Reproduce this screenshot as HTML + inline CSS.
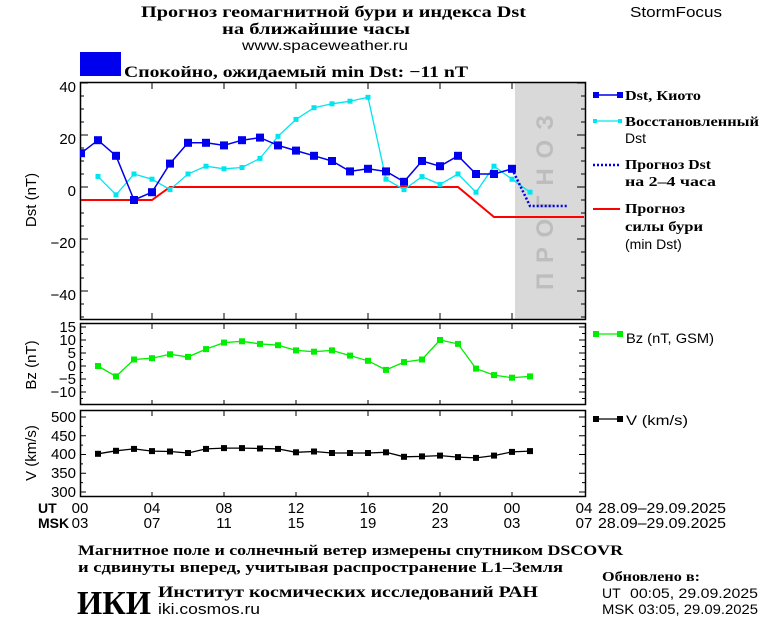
<!DOCTYPE html>
<html><head><meta charset="utf-8"><style>
html,body{margin:0;padding:0;background:#fff}
svg{display:block}
text{font-family:"Liberation Sans","DejaVu Sans",sans-serif;fill:#000}
.s{font-family:"Liberation Serif","DejaVu Serif",serif;font-weight:bold}
</style></head><body>
<svg width="760" height="620" viewBox="0 0 760 620" xmlns="http://www.w3.org/2000/svg" font-size="13">
<rect width="760" height="620" fill="#fff"/>
<!-- header -->
<text x="141" y="17" class="s" font-size="16" textLength="385" lengthAdjust="spacingAndGlyphs">Прогноз геомагнитной бури и индекса Dst</text>
<text x="222" y="34" class="s" font-size="16" textLength="188" lengthAdjust="spacingAndGlyphs">на ближайшие часы</text>
<text x="242" y="50" font-size="14" textLength="166" lengthAdjust="spacingAndGlyphs">www.spaceweather.ru</text>
<text x="630" y="17" font-size="15" textLength="92" lengthAdjust="spacingAndGlyphs">StormFocus</text>
<rect x="80" y="52" width="41" height="24" fill="#0000ee"/>
<text x="124" y="77" class="s" font-size="16" textLength="344" lengthAdjust="spacingAndGlyphs">Спокойно, ожидаемый min Dst: −11 nT</text>

<!-- Dst panel -->
<rect x="515" y="83" width="70" height="236" fill="#d9d9d9"/>
<text transform="translate(553,290) rotate(-90)" font-size="24" font-weight="bold" textLength="175" lengthAdjust="spacing" style="fill:#bdbdbd">ПРОГНОЗ</text>
<rect x="80.5" y="82.5" width="505" height="237" fill="none" stroke="#000" stroke-width="1.5"/>
<g stroke="#000" stroke-width="1">
<path d="M80 83h8M80 96h4M80 109h4M80 122h4M80 135h8M80 148h4M80 161h4M80 174h4M80 187h8M80 200h4M80 213h4M80 226h4M80 239h8M80 252h4M80 265h4M80 278h4M80 291h8M80 304h4M80 317h4"/>
<path d="M585 83h-8M585 96h-4M585 109h-4M585 122h-4M585 135h-8M585 148h-4M585 161h-4M585 174h-4M585 187h-8M585 200h-4M585 213h-4M585 226h-4M585 239h-8M585 252h-4M585 265h-4M585 278h-4M585 291h-8M585 304h-4M585 317h-4"/>
<path d="M152 83v6M224 83v6M296 83v6M368 83v6M440 83v6M512 83v6M152 319v-6M224 319v-6M296 319v-6M368 319v-6M440 319v-6M512 319v-6"/>
</g>
<g text-anchor="end" font-size="15">
<text x="76" y="92">40</text><text x="76" y="144">20</text><text x="76" y="196">0</text><text x="76" y="248">−20</text><text x="76" y="300">−40</text>
</g>
<text transform="translate(36,200) rotate(-90)" text-anchor="middle" font-size="15">Dst (nT)</text>
<polyline fill="none" stroke="#f00" stroke-width="2" points="81,200 152,200 170,187 458,187 494,217 584,217"/>
<polyline fill="none" stroke="#00e5ee" stroke-width="1.3" points="98,176.6 116,194.8 134,174 152,179.2 170,189.6 188,174 206,166.2 224,168.8 242,167.5 260,158.4 278,136.3 296,119.4 314,107.7 332,103.8 350,101.2 368,97.3 386,179.2 404,189.6 422,176.6 440,184.4 458,174 476,192.2 494,166.2 512,179.2 530,192.2"/>
<g fill="#00e5ee">
<rect x="95.5" y="174" width="5" height="5"/><rect x="113.5" y="192.3" width="5" height="5"/><rect x="131.5" y="171.5" width="5" height="5"/><rect x="149.5" y="176.7" width="5" height="5"/><rect x="167.5" y="187.1" width="5" height="5"/><rect x="185.5" y="171.5" width="5" height="5"/><rect x="203.5" y="163.7" width="5" height="5"/><rect x="221.5" y="166.3" width="5" height="5"/><rect x="239.5" y="165" width="5" height="5"/><rect x="257.5" y="155.9" width="5" height="5"/><rect x="275.5" y="133.8" width="5" height="5"/><rect x="293.5" y="116.9" width="5" height="5"/><rect x="311.5" y="105.2" width="5" height="5"/><rect x="329.5" y="101.3" width="5" height="5"/><rect x="347.5" y="98.7" width="5" height="5"/><rect x="365.5" y="94.8" width="5" height="5"/><rect x="383.5" y="176.7" width="5" height="5"/><rect x="401.5" y="187.1" width="5" height="5"/><rect x="419.5" y="174.1" width="5" height="5"/><rect x="437.5" y="181.9" width="5" height="5"/><rect x="455.5" y="171.5" width="5" height="5"/><rect x="473.5" y="189.7" width="5" height="5"/><rect x="491.5" y="163.7" width="5" height="5"/><rect x="509.5" y="176.7" width="5" height="5"/><rect x="527.5" y="189.7" width="5" height="5"/>
</g>
<polyline fill="none" stroke="#0000ee" stroke-width="1.5" points="81,153.2 98,140.2 116,155.8 134,200 152,192.2 170,163.6 188,142.8 206,142.8 224,145.4 242,140.2 260,137.6 278,145.4 296,150.6 314,155.8 332,161 350,171.4 368,168.8 386,171.4 404,181.8 422,161 440,166.2 458,155.8 476,174 494,174 512,168.8"/>
<polyline fill="none" stroke="#0000ee" stroke-width="2.5" stroke-dasharray="2,2" points="512,168.8 530,206 567,206"/>
<g fill="#0000ee">
<rect x="80" y="149.2" width="5" height="8"/><rect x="94" y="136.2" width="8" height="8"/><rect x="112" y="151.8" width="8" height="8"/><rect x="130" y="196" width="8" height="8"/><rect x="148" y="188.2" width="8" height="8"/><rect x="166" y="159.6" width="8" height="8"/><rect x="184" y="138.8" width="8" height="8"/><rect x="202" y="138.8" width="8" height="8"/><rect x="220" y="141.4" width="8" height="8"/><rect x="238" y="136.2" width="8" height="8"/><rect x="256" y="133.6" width="8" height="8"/><rect x="274" y="141.4" width="8" height="8"/><rect x="292" y="146.6" width="8" height="8"/><rect x="310" y="151.8" width="8" height="8"/><rect x="328" y="157" width="8" height="8"/><rect x="346" y="167.4" width="8" height="8"/><rect x="364" y="164.8" width="8" height="8"/><rect x="382" y="167.4" width="8" height="8"/><rect x="400" y="177.8" width="8" height="8"/><rect x="418" y="157" width="8" height="8"/><rect x="436" y="162.2" width="8" height="8"/><rect x="454" y="151.8" width="8" height="8"/><rect x="472" y="170" width="8" height="8"/><rect x="490" y="170" width="8" height="8"/><rect x="508" y="164.8" width="8" height="8"/>
</g>
<!-- Dst legend -->
<line x1="595" y1="95" x2="620" y2="95" stroke="#0000ee" stroke-width="1.5"/>
<rect x="593" y="92" width="6" height="6" fill="#0000ee"/><rect x="617" y="92" width="6" height="6" fill="#0000ee"/>
<text x="625" y="100" class="s" font-size="14" textLength="76" lengthAdjust="spacingAndGlyphs">Dst, Киото</text>
<line x1="595" y1="121" x2="620" y2="121" stroke="#00e5ee" stroke-width="1.3"/>
<rect x="593" y="119" width="4" height="4" fill="#00e5ee"/><rect x="618" y="119" width="4" height="4" fill="#00e5ee"/>
<text x="625" y="126" class="s" font-size="14" textLength="134" lengthAdjust="spacingAndGlyphs">Восстановленный</text><text x="625" y="143" font-size="14">Dst</text>
<line x1="593" y1="165" x2="620" y2="165" stroke="#0000ee" stroke-width="2.5" stroke-dasharray="2,2"/>
<text x="625" y="169" class="s" font-size="14" textLength="86" lengthAdjust="spacingAndGlyphs">Прогноз Dst</text><text x="625" y="186" class="s" font-size="14" textLength="91" lengthAdjust="spacingAndGlyphs">на 2–4 часа</text>
<line x1="593" y1="209" x2="620" y2="209" stroke="#f00" stroke-width="2"/>
<text x="625" y="213" class="s" font-size="14" textLength="60" lengthAdjust="spacingAndGlyphs">Прогноз</text><text x="625" y="231" class="s" font-size="14" textLength="78" lengthAdjust="spacingAndGlyphs">силы бури</text><text x="625" y="249" font-size="14">(min Dst)</text>

<!-- Bz panel -->
<rect x="80.5" y="323.5" width="505" height="81" fill="none" stroke="#000" stroke-width="1.5"/>
<g stroke="#000" stroke-width="1">
<path d="M80 327h6M80 340h6M80 353h6M80 366h6M80 379h6M80 392h6M80 333.5h3M80 346.5h3M80 359.5h3M80 372.5h3M80 385.5h3M80 398.5h3"/>
<path d="M585 327h-6M585 340h-6M585 353h-6M585 366h-6M585 379h-6M585 392h-6M585 333.5h-3M585 346.5h-3M585 359.5h-3M585 372.5h-3M585 385.5h-3M585 398.5h-3"/>
<path d="M152 324v5M224 324v5M296 324v5M368 324v5M440 324v5M512 324v5M152 405v-5M224 405v-5M296 405v-5M368 405v-5M440 405v-5M512 405v-5"/>
</g>
<g text-anchor="end" font-size="15">
<text x="76" y="332">15</text><text x="76" y="345">10</text><text x="76" y="358">5</text><text x="76" y="371">0</text><text x="76" y="384">−5</text><text x="76" y="397">−10</text>
</g>
<text transform="translate(36,365) rotate(-90)" text-anchor="middle" font-size="15">Bz (nT)</text>
<polyline fill="none" stroke="#00ee00" stroke-width="1.3" points="98,366 116,376.4 134,359.5 152,358.2 170,354.3 188,356.9 206,349.1 224,342.6 242,341.3 260,343.9 278,345.2 296,350.4 314,351.7 332,350.4 350,355.6 368,360.8 386,369.9 404,362.1 422,359.5 440,340 458,343.9 476,368.6 494,375.1 512,377.7 530,376.4"/>
<g fill="#00ee00">
<rect x="95" y="363" width="6" height="6"/><rect x="113" y="373.4" width="6" height="6"/><rect x="131" y="356.5" width="6" height="6"/><rect x="149" y="355.2" width="6" height="6"/><rect x="167" y="351.3" width="6" height="6"/><rect x="185" y="353.9" width="6" height="6"/><rect x="203" y="346.1" width="6" height="6"/><rect x="221" y="339.6" width="6" height="6"/><rect x="239" y="338.3" width="6" height="6"/><rect x="257" y="340.9" width="6" height="6"/><rect x="275" y="342.2" width="6" height="6"/><rect x="293" y="347.4" width="6" height="6"/><rect x="311" y="348.7" width="6" height="6"/><rect x="329" y="347.4" width="6" height="6"/><rect x="347" y="352.6" width="6" height="6"/><rect x="365" y="357.8" width="6" height="6"/><rect x="383" y="366.9" width="6" height="6"/><rect x="401" y="359.1" width="6" height="6"/><rect x="419" y="356.5" width="6" height="6"/><rect x="437" y="337" width="6" height="6"/><rect x="455" y="340.9" width="6" height="6"/><rect x="473" y="365.6" width="6" height="6"/><rect x="491" y="372.1" width="6" height="6"/><rect x="509" y="374.7" width="6" height="6"/><rect x="527" y="373.4" width="6" height="6"/>
</g>
<line x1="595" y1="334" x2="620" y2="334" stroke="#00ee00" stroke-width="1.3"/>
<rect x="593" y="331" width="6" height="6" fill="#00ee00"/><rect x="617" y="331" width="6" height="6" fill="#00ee00"/>
<text x="626" y="343" font-size="14" textLength="88" lengthAdjust="spacingAndGlyphs">Bz (nT, GSM)</text>

<!-- V panel -->
<rect x="80.5" y="410.5" width="505" height="86" fill="none" stroke="#000" stroke-width="1.5"/>
<g stroke="#000" stroke-width="1">
<path d="M80 417h6M80 435.75h6M80 454.5h6M80 473.25h6M80 492h6M80 426.4h3M80 445.1h3M80 463.9h3M80 482.6h3"/>
<path d="M585 417h-6M585 435.75h-6M585 454.5h-6M585 473.25h-6M585 492h-6M585 426.4h-3M585 445.1h-3M585 463.9h-3M585 482.6h-3"/>
<path d="M152 411v5M224 411v5M296 411v5M368 411v5M440 411v5M512 411v5M152 497v-5M224 497v-5M296 497v-5M368 497v-5M440 497v-5M512 497v-5"/>
</g>
<g text-anchor="end" font-size="15">
<text x="76" y="422">500</text><text x="76" y="441">450</text><text x="76" y="459">400</text><text x="76" y="478">350</text><text x="76" y="497">300</text>
</g>
<text transform="translate(36,453) rotate(-90)" text-anchor="middle" font-size="15">V (km/s)</text>
<polyline fill="none" stroke="#000" stroke-width="1.3" points="98,453.8 116,450.8 134,448.9 152,451.1 170,451.5 188,453 206,448.9 224,448.1 242,448.1 260,448.5 278,448.9 296,452.3 314,451.5 332,453 350,453 368,453 386,452.3 404,456.8 422,456.4 440,455.6 458,457.1 476,457.9 494,455.6 512,451.9 530,451.1"/>
<g fill="#000">
<rect x="95" y="450.8" width="6" height="6"/><rect x="113" y="447.8" width="6" height="6"/><rect x="131" y="445.9" width="6" height="6"/><rect x="149" y="448.1" width="6" height="6"/><rect x="167" y="448.5" width="6" height="6"/><rect x="185" y="450" width="6" height="6"/><rect x="203" y="445.9" width="6" height="6"/><rect x="221" y="445.1" width="6" height="6"/><rect x="239" y="445.1" width="6" height="6"/><rect x="257" y="445.5" width="6" height="6"/><rect x="275" y="445.9" width="6" height="6"/><rect x="293" y="449.3" width="6" height="6"/><rect x="311" y="448.5" width="6" height="6"/><rect x="329" y="450" width="6" height="6"/><rect x="347" y="450" width="6" height="6"/><rect x="365" y="450" width="6" height="6"/><rect x="383" y="449.3" width="6" height="6"/><rect x="401" y="453.8" width="6" height="6"/><rect x="419" y="453.4" width="6" height="6"/><rect x="437" y="452.6" width="6" height="6"/><rect x="455" y="454.1" width="6" height="6"/><rect x="473" y="454.9" width="6" height="6"/><rect x="491" y="452.6" width="6" height="6"/><rect x="509" y="448.9" width="6" height="6"/><rect x="527" y="448.1" width="6" height="6"/>
</g>
<line x1="595" y1="419" x2="620" y2="419" stroke="#000" stroke-width="1.3"/>
<rect x="593" y="416" width="6" height="6" fill="#000"/><rect x="617" y="416" width="6" height="6" fill="#000"/>
<text x="626" y="425" font-size="14" textLength="62" lengthAdjust="spacingAndGlyphs">V (km/s)</text>

<!-- time axis labels -->
<g font-size="15">
<text x="38" y="513" font-weight="bold" font-size="14">UT</text>
<text x="38" y="528" font-weight="bold" font-size="14">MSK</text>
<g text-anchor="middle">
<text x="80" y="513">00</text><text x="152" y="513">04</text><text x="224" y="513">08</text><text x="296" y="513">12</text><text x="368" y="513">16</text><text x="440" y="513">20</text><text x="512" y="513">00</text><text x="584" y="513">04</text>
<text x="80" y="528">03</text><text x="152" y="528">07</text><text x="224" y="528">11</text><text x="296" y="528">15</text><text x="368" y="528">19</text><text x="440" y="528">23</text><text x="512" y="528">03</text><text x="584" y="528">07</text>
</g>
<text x="598" y="513" textLength="128" lengthAdjust="spacingAndGlyphs">28.09–29.09.2025</text>
<text x="598" y="528" textLength="128" lengthAdjust="spacingAndGlyphs">28.09–29.09.2025</text>
</g>

<!-- footer -->
<text x="78" y="555" class="s" font-size="15" textLength="545" lengthAdjust="spacingAndGlyphs">Магнитное поле и солнечный ветер измерены спутником DSCOVR</text>
<text x="78" y="572" class="s" font-size="15" textLength="485" lengthAdjust="spacingAndGlyphs">и сдвинуты вперед, учитывая распространение L1–Земля</text>
<text x="77" y="614" class="s" font-size="34" textLength="74" lengthAdjust="spacingAndGlyphs">ИКИ</text>
<text x="158" y="597" class="s" font-size="16" textLength="380" lengthAdjust="spacingAndGlyphs">Институт космических исследований РАН</text>
<text x="158" y="614" font-size="15" textLength="102" lengthAdjust="spacingAndGlyphs">iki.cosmos.ru</text>
<text x="602" y="581" class="s" font-size="14" textLength="98" lengthAdjust="spacingAndGlyphs">Обновлено в:</text>
<text x="602" y="598" font-size="14">UT</text>
<text x="630" y="598" font-size="14" textLength="128" lengthAdjust="spacingAndGlyphs">00:05, 29.09.2025</text>
<text x="602" y="614" font-size="14" textLength="156" lengthAdjust="spacingAndGlyphs">MSK 03:05, 29.09.2025</text>
</svg>
</body></html>
